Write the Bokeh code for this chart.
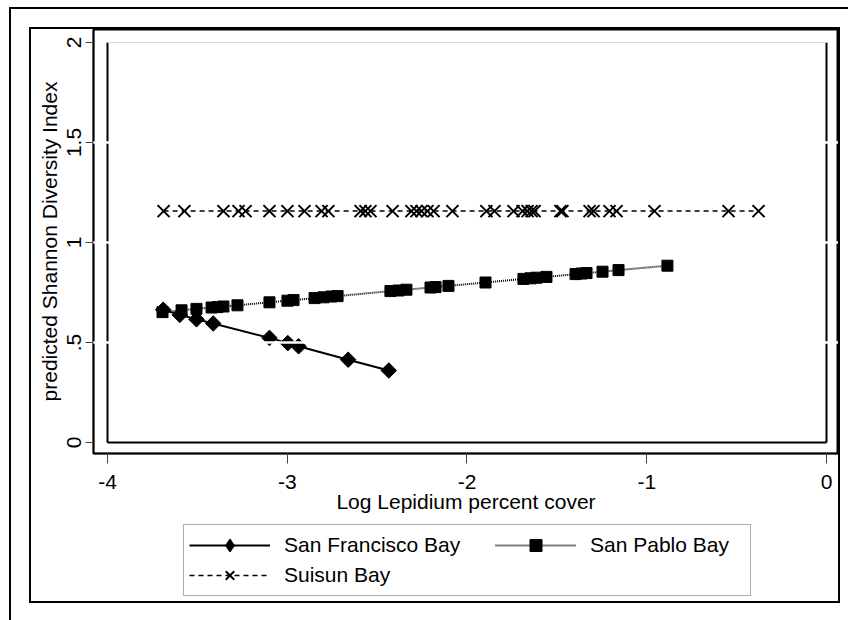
from math import pi
from bokeh.plotting import figure
from bokeh.layouts import column
from bokeh.models import Range1d, FixedTicker, Legend, LegendItem, Grid
from bokeh.embed import file_html
from bokeh.resources import INLINE

# ---- data ----
sf_x = [-3.690, -3.598, -3.505, -3.412, -3.099, -2.997, -2.937, -2.661, -2.435]
sf_y = [0.664, 0.638, 0.616, 0.595, 0.523, 0.497, 0.481, 0.414, 0.360]

sp_x = [-3.694, -3.588, -3.505, -3.421, -3.388, -3.355, -3.277, -3.099, -2.999, -2.965,
        -2.848, -2.798, -2.754, -2.720, -2.426, -2.381, -2.337, -2.203, -2.175, -2.103,
        -1.897, -1.686, -1.647, -1.613, -1.558, -1.396, -1.363, -1.335, -1.246, -1.157,
        -0.885]
sp_y = [0.652, 0.661, 0.668, 0.675, 0.677, 0.680, 0.686, 0.701, 0.709, 0.712,
        0.722, 0.726, 0.730, 0.732, 0.757, 0.760, 0.764, 0.775, 0.777, 0.783,
        0.800, 0.818, 0.821, 0.824, 0.828, 0.842, 0.845, 0.847, 0.854, 0.862,
        0.884]

su_x = [-3.688, -3.572, -3.355, -3.271, -3.232, -3.099, -2.999, -2.904, -2.809, -2.771,
        -2.592, -2.565, -2.537, -2.414, -2.309, -2.281, -2.253, -2.220, -2.186, -2.081,
        -1.892, -1.847, -1.741, -1.691, -1.663, -1.641, -1.624, -1.480, -1.469, -1.318,
        -1.296, -1.207, -1.168, -0.957, -0.545, -0.378]
su_y = [1.157, 1.157, 1.157, 1.157, 1.157, 1.157, 1.157, 1.157, 1.157, 1.157,
        1.157, 1.157, 1.157, 1.157, 1.157, 1.157, 1.157, 1.157, 1.157, 1.157,
        1.157, 1.157, 1.157, 1.157, 1.157, 1.157, 1.157, 1.157, 1.157, 1.157,
        1.157, 1.157, 1.157, 1.157, 1.157, 1.157]

x_ticks = [-4, -3, -2, -1, 0]
x_tick_labels = ["-4", "-3", "-2", "-1", "0"]
y_ticks = [0, 0.5, 1, 1.5, 2]
y_tick_labels = ["0", ".5", "1", "1.5", "2"]

series_names = ["San Francisco Bay", "San Pablo Bay", "Suisun Bay"]
x_title = "Log Lepidium percent cover"
y_title = "predicted Shannon Diversity Index"

FONT = "Liberation Sans"
FS = "21px"

X_START, X_END = -4.0779, 0.0668
Y_START, Y_END = -0.055, 2.065

# series styles
SF_LINE = dict(line_color="black", line_width=2)
SF_MARK = dict(marker="square", angle=pi / 4, size=11, fill_color="black", line_color="black")
SP_LINE = dict(line_color="black", line_width=2, line_dash="1 1")
SP_MARK = dict(marker="square", size=11, fill_color="black", line_color="black")
SU_LINE = dict(line_color="black", line_width=1.5, line_dash="5 4")
SU_MARK = dict(marker="x", size=17, line_color="black", line_width=2)

# ---------------- main plot ----------------
p = figure(width=807, height=492, output_backend="svg", toolbar_location=None,
           x_range=Range1d(X_START, X_END), y_range=Range1d(Y_START, Y_END),
           min_border_left=62, min_border_right=0, min_border_top=0,
           min_border_bottom=68, background_fill_color="white",
           border_fill_color="white")

p.xgrid.visible = False
p.ygrid.visible = False
p.outline_line_color = "black"
p.outline_line_width = 2

for ax in (p.xaxis[0], p.yaxis[0]):
    ax.axis_line_color = "black"
    ax.axis_line_width = 1.5
    ax.major_tick_line_color = "#444444"
    ax.major_tick_line_width = 1
    ax.major_tick_in = 0
    ax.minor_tick_line_color = None
    ax.major_label_text_font = FONT
    ax.major_label_text_font_size = FS
    ax.major_label_text_color = "black"
    ax.axis_label_text_font = FONT
    ax.axis_label_text_font_size = FS
    ax.axis_label_text_font_style = "normal"
    ax.axis_label_text_color = "black"

p.xaxis.ticker = FixedTicker(ticks=x_ticks)
p.xaxis.major_label_overrides = dict(zip(x_ticks, x_tick_labels))
p.xaxis.major_tick_out = 10
p.xaxis.major_label_standoff = 11
p.xaxis.axis_label = x_title
p.xaxis.axis_label_standoff = -2

p.yaxis.ticker = FixedTicker(ticks=y_ticks)
p.yaxis.major_label_overrides = dict(zip(y_ticks, y_tick_labels))
p.yaxis.major_tick_out = 8
p.yaxis.major_label_standoff = 5
p.yaxis.major_label_orientation = "vertical"
p.yaxis.axis_label = y_title
p.yaxis.axis_label_standoff = 3

# inner plot-region box at the axis extremes
p.segment(x0=[x_ticks[0], x_ticks[-1], x_ticks[0]],
          y0=[y_ticks[0], y_ticks[0], y_ticks[0]],
          x1=[x_ticks[0], x_ticks[-1], x_ticks[-1]],
          y1=[y_ticks[-1], y_ticks[-1], y_ticks[0]],
          line_color="black", line_width=2)
p.segment(x0=[x_ticks[0]], y0=[y_ticks[-1]], x1=[x_ticks[-1]], y1=[y_ticks[-1]],
          line_color="#d8d8d8", line_width=1)

# white y-gridlines, visible only where they cross the region borders
for bnds in ((X_START - 0.05, x_ticks[0] + 0.01), (x_ticks[-1] - 0.01, X_END + 0.05)):
    g = Grid(dimension=1, ticker=FixedTicker(ticks=y_ticks[1:-1]),
             grid_line_color="white", grid_line_width=2, bounds=bnds,
             level="overlay")
    p.add_layout(g)

p.line(su_x, su_y, **SU_LINE)
p.scatter(su_x, su_y, **SU_MARK)
p.line(sp_x, sp_y, **SP_LINE)
p.scatter(sp_x, sp_y, **SP_MARK)
p.line(sf_x, sf_y, **SF_LINE)
p.scatter(sf_x, sf_y, **SF_MARK)

# ---------------- legend strip ----------------
q = figure(width=807, height=80, output_backend="svg", toolbar_location=None,
           x_range=Range1d(10, 11), y_range=Range1d(10, 11),
           x_axis_location=None, y_axis_location=None,
           min_border=0, min_border_left=0, min_border_right=0,
           min_border_top=0, min_border_bottom=0,
           background_fill_color="white", border_fill_color="white")
q.grid.visible = False
q.outline_line_color = None

gl_sf = q.line(sf_x, sf_y, **SF_LINE)
gm_sf = q.scatter(sf_x, sf_y, marker="diamond", fill_color="black", line_color="black",
                  line_width=1.5)
gl_sp = q.line(sp_x, sp_y, **SP_LINE)
gm_sp = q.scatter(sp_x, sp_y, **SP_MARK)
gl_su = q.line(su_x, su_y, **SU_LINE)
gm_su = q.scatter(su_x, su_y, **SU_MARK)

leg_style = dict(label_text_font=FONT, label_text_font_size=FS,
                 label_text_color="black",
                 glyph_width=81, glyph_height=30, label_standoff=14,
                 padding=5, spacing=0, margin=0)

# the legend strip's frame is aligned with the main frame (left edge at x = 93)
legend1 = Legend(items=[
    LegendItem(label=series_names[0], renderers=[gl_sf, gm_sf]),
    LegendItem(label=series_names[2], renderers=[gl_su, gm_su]),
], orientation="vertical", location=(90, 5), label_width=461,
    border_line_color="#606060", border_line_width=1,
    background_fill_color="white", background_fill_alpha=1, **leg_style)
q.add_layout(legend1)

legend2 = Legend(items=[
    LegendItem(label=series_names[1], renderers=[gl_sp, gm_sp]),
], orientation="vertical", location=(402, 41),
    border_line_color=None, background_fill_alpha=0, **leg_style)
q.add_layout(legend2)

layout = column(p, q, spacing=0, margin=(29, 0, 0, 31),
                styles={"box-shadow": "0 0 0 2px black",
                        "outline": "2px solid black",
                        "outline-offset": "20px"})

open("out.html", "w").write(file_html(layout, INLINE))
